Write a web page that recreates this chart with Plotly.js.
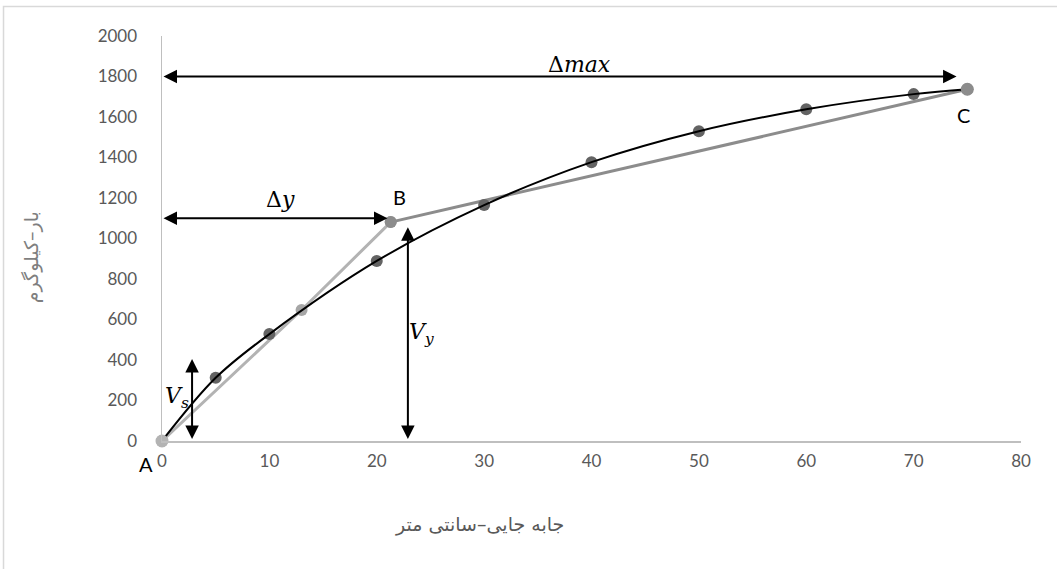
<!DOCTYPE html>
<html>
<head>
<meta charset="utf-8">
<script src="https://cdn.plot.ly/plotly-3.0.1.min.js"></script>
<style>html,body{margin:0;padding:0;background:#fff;}#chart{width:1057px;height:569px;}</style>
</head>
<body>
<div id="chart"></div>
<script>
// measured series (displacement cm, load kg)
var measuredX = [0, 5, 10, 20, 30, 40, 50, 60, 70, 75];
var measuredY = [0, 312, 528, 889, 1165, 1377, 1530, 1638, 1713, 1737];
// elastic segment A -> B
var elasticX = [0, 13, 21.3];
var elasticY = [0, 647, 1081];
// plastic segment B -> C
var plasticX = [21.3, 75];
var plasticY = [1081, 1737];
// axis ticks
var xTicks = [0, 10, 20, 30, 40, 50, 60, 70, 80];
var yTicks = [0, 200, 400, 600, 800, 1000, 1200, 1400, 1600, 1800, 2000];
// dimension arrows [x0, y0, x1, y1]
var arrowDmax = [0, 1800, 74, 1800];
var arrowDy = [0, 1100, 21, 1100];
var arrowVs = [2.8, 0, 2.8, 405];
var arrowVy = [22.9, 0, 22.9, 1055];
// text labels
var labelTexts = ['Δ<i>max</i>', 'Δ<i>y</i>', '<i>V<sub>s</sub></i>', '<i>V<sub>y</sub></i>'];
var labelX = [38.9, 11.0, 1.4, 24.2];
var labelY = [1858, 1195, 217, 533];
var pointNames = ['B', 'C'];
var pointNameX = [22.1, 74.6];
var pointNameY = [1205, 1610];

var traces = [
  {x: elasticX, y: elasticY, mode: 'lines+markers', cliponaxis: false,
   line: {color: '#b3b3b3', width: 3}, marker: {color: '#a6a6a6', size: 12}},
  {x: plasticX, y: plasticY, mode: 'lines+markers', cliponaxis: false,
   line: {color: '#8c8c8c', width: 3}, marker: {color: '#8c8c8c', size: 12}},
  {x: measuredX.slice(1, 9), y: measuredY.slice(1, 9), mode: 'markers', cliponaxis: false,
   marker: {color: '#636363', size: 12}},
  {x: measuredX, y: measuredY, mode: 'lines', cliponaxis: false,
   line: {color: '#000000', width: 2, shape: 'spline', smoothing: 1}},
  {x: [elasticX[0]], y: [elasticY[0]], mode: 'markers', cliponaxis: false,
   marker: {color: '#b3b3b3', size: 13}},
  {x: [plasticX[1]], y: [plasticY[1]], mode: 'markers', cliponaxis: false,
   marker: {color: '#8c8c8c', size: 13}}
];

function dimArrow(a) {
  return {x: a[2], y: a[3], ax: a[0], ay: a[1], xref: 'x', yref: 'y', axref: 'x', ayref: 'y',
    text: ' ', showarrow: true, arrowside: 'end+start', arrowhead: 2, startarrowhead: 2,
    arrowsize: 1.35, startarrowsize: 1.35, arrowwidth: 2, arrowcolor: '#000', standoff: 0, startstandoff: 0,
    font: {size: 1}};
}

var ann = [dimArrow(arrowDmax), dimArrow(arrowDy), dimArrow(arrowVs), dimArrow(arrowVy)];
for (var i = 0; i < labelTexts.length; i++) {
  ann.push({x: labelX[i], y: labelY[i], xref: 'x', yref: 'y', text: labelTexts[i], showarrow: false,
    font: {family: 'DejaVu Serif, Liberation Serif, serif', size: 22, color: '#000'}});
}
for (var j = 0; j < pointNames.length; j++) {
  ann.push({x: pointNameX[j], y: pointNameY[j], xref: 'x', yref: 'y', text: pointNames[j], showarrow: false,
    font: {family: 'Lato, Liberation Sans, sans-serif', size: 20, color: '#000'}});
}
ann.push({x: -0.019, y: -0.057, xref: 'paper', yref: 'paper', xanchor: 'center', yanchor: 'middle',
  text: 'A', showarrow: false,
  font: {family: 'Lato, Liberation Sans, sans-serif', size: 20, color: '#000'}});
ann.push({x: 0.370, y: -0.207, xref: 'paper', yref: 'paper', xanchor: 'center', yanchor: 'middle',
  text: 'جابه جایی–سانتی متر', showarrow: false,
  font: {family: 'DejaVu Sans, serif', size: 19, color: '#595959'}});
ann.push({x: -0.152, y: 0.455, xref: 'paper', yref: 'paper', xanchor: 'center', yanchor: 'middle',
  text: 'بار–کیلوگرم', showarrow: false, textangle: -90,
  font: {family: 'DejaVu Sans, serif', size: 19, color: '#7f7f7f'}});

var layout = {
  width: 1057, height: 569,
  margin: {l: 162, r: 36, t: 36, b: 128},
  paper_bgcolor: '#fff', plot_bgcolor: '#fff',
  showlegend: false,
  font: {family: 'Lato, Liberation Sans, sans-serif', size: 17, color: '#595959'},
  xaxis: {range: [0, 80], tickvals: xTicks, showgrid: false, zeroline: false, showline: true,
    linecolor: '#bfbfbf', linewidth: 1.5, ticks: '', fixedrange: true, ticklabelstandoff: 4},
  yaxis: {range: [0, 2000], tickvals: yTicks, showgrid: false, zeroline: false, showline: true,
    linecolor: '#bfbfbf', linewidth: 1.5, ticks: '', fixedrange: true, ticklabelstandoff: 20},
  annotations: ann,
  shapes: [{type: 'rect', xref: 'paper', yref: 'paper', x0: -0.1845, x1: 1.2, y0: -0.5, y1: 1.0728,
    line: {color: '#d9d9d9', width: 1.5}, fillcolor: 'rgba(0,0,0,0)', layer: 'below'}]
};

Plotly.newPlot('chart', traces, layout, {displayModeBar: false, staticPlot: true});
</script>
</body>
</html>
